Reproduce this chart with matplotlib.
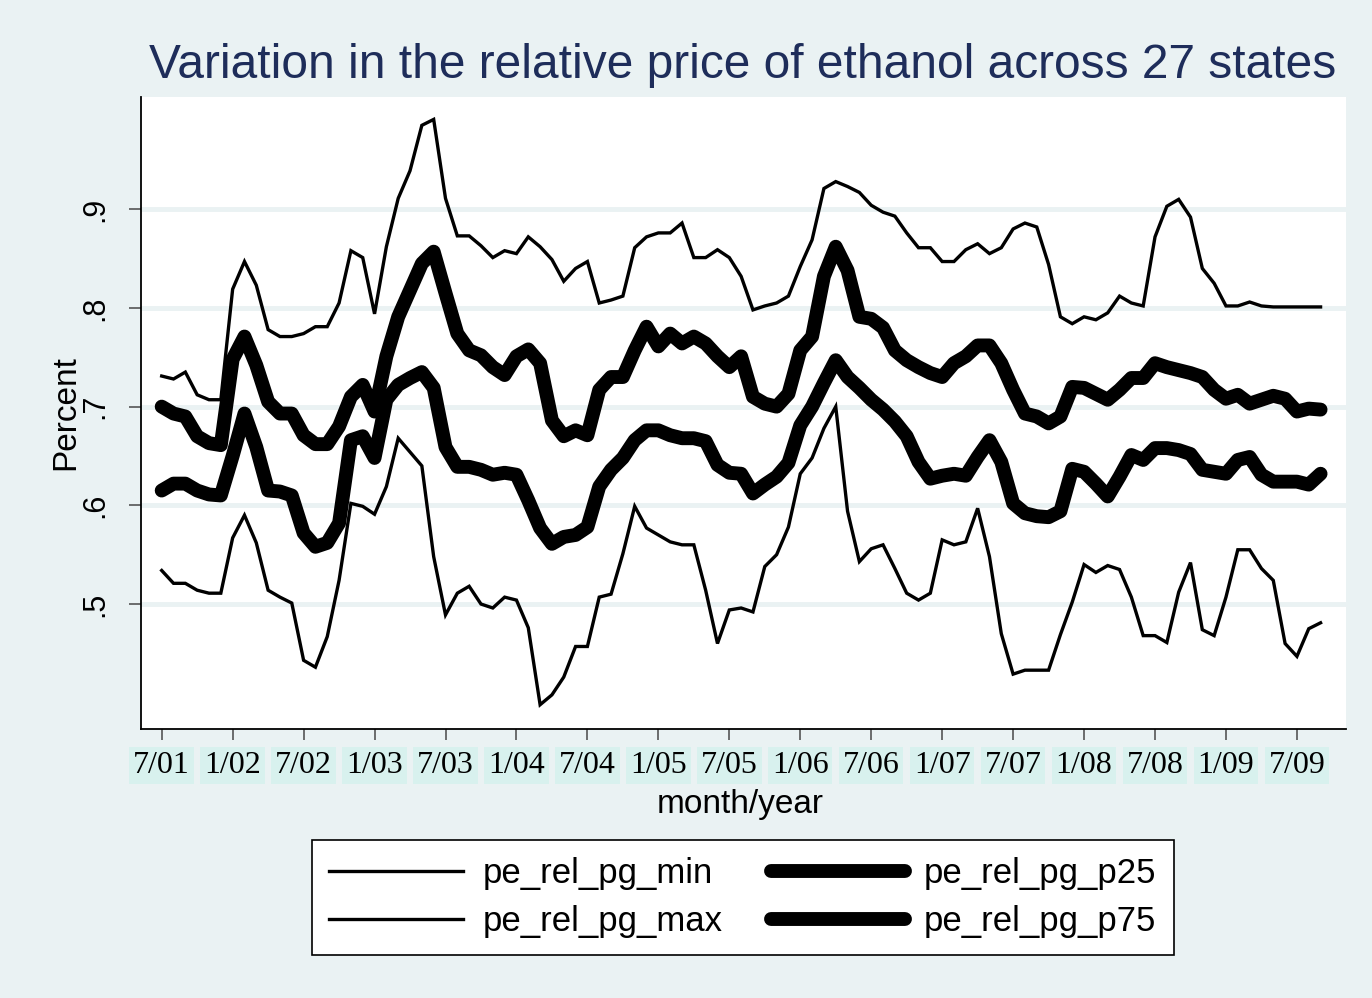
"""
Relative price of ethanol across 27 states: min / p25 / p75 / max by month.
"""
import numpy as np
import pandas as pd
import matplotlib
matplotlib.use('Agg')  # no display
import matplotlib.pyplot as plt

# monthly observations, 2001m7 - 2009m9
months = pd.period_range("2001-07", "2009-09", freq="M")

pe_rel_pg_min = [
    0.534, 0.521, 0.521, 0.514, 0.511, 0.511, 0.567, 0.590, 0.562, 0.514,
    0.507, 0.501, 0.443, 0.436, 0.467, 0.524, 0.602, 0.599, 0.591, 0.619,
    0.668, 0.654, 0.640, 0.548, 0.489, 0.511, 0.518, 0.500, 0.496, 0.507,
    0.504, 0.476, 0.398, 0.408, 0.426, 0.457, 0.457, 0.507, 0.510, 0.551,
    0.599, 0.577, 0.570, 0.563, 0.560, 0.560, 0.514, 0.460, 0.494, 0.496,
    0.492, 0.538, 0.550, 0.578, 0.632, 0.648, 0.678, 0.700, 0.594, 0.543,
    0.556, 0.560, 0.536, 0.511, 0.504, 0.511, 0.565, 0.560, 0.563, 0.597,
    0.548, 0.470, 0.429, 0.433, 0.433, 0.433, 0.469, 0.502, 0.540, 0.532,
    0.539, 0.535, 0.507, 0.468, 0.468, 0.461, 0.512, 0.542, 0.474, 0.468,
    0.507, 0.555, 0.555, 0.536, 0.524, 0.460, 0.447, 0.475, 0.481,
]

pe_rel_pg_max = [
    0.731, 0.728, 0.735, 0.712, 0.707, 0.707, 0.819, 0.847, 0.823, 0.778,
    0.771, 0.771, 0.774, 0.781, 0.781, 0.805, 0.858, 0.851, 0.794, 0.862,
    0.911, 0.939, 0.985, 0.991, 0.911, 0.873, 0.873, 0.863, 0.851, 0.858,
    0.855, 0.872, 0.862, 0.849, 0.827, 0.840, 0.847, 0.805, 0.808, 0.812,
    0.861, 0.872, 0.876, 0.876, 0.886, 0.851, 0.851, 0.859, 0.851, 0.832,
    0.798, 0.802, 0.805, 0.812, 0.842, 0.869, 0.921, 0.928, 0.923, 0.917,
    0.904, 0.897, 0.893, 0.876, 0.861, 0.861, 0.847, 0.847, 0.859, 0.865,
    0.855, 0.861, 0.880, 0.886, 0.882, 0.844, 0.791, 0.784, 0.791, 0.788,
    0.795, 0.812, 0.805, 0.802, 0.872, 0.903, 0.910, 0.892, 0.840, 0.825,
    0.802, 0.802, 0.806, 0.802, 0.801, 0.801, 0.801, 0.801, 0.801,
]

pe_rel_pg_p25 = [
    0.615, 0.622, 0.622, 0.615, 0.611, 0.610, 0.650, 0.693, 0.659, 0.615,
    0.614, 0.610, 0.572, 0.558, 0.562, 0.582, 0.666, 0.670, 0.648, 0.707,
    0.722, 0.729, 0.735, 0.719, 0.659, 0.639, 0.639, 0.636, 0.631, 0.633,
    0.631, 0.605, 0.577, 0.561, 0.568, 0.570, 0.578, 0.619, 0.636, 0.648,
    0.666, 0.676, 0.676, 0.671, 0.668, 0.668, 0.665, 0.641, 0.633, 0.632,
    0.612, 0.621, 0.629, 0.643, 0.681, 0.700, 0.724, 0.747, 0.730, 0.719,
    0.707, 0.697, 0.685, 0.670, 0.644, 0.627, 0.630, 0.632, 0.630, 0.649,
    0.666, 0.644, 0.602, 0.592, 0.589, 0.588, 0.594, 0.637, 0.634, 0.622,
    0.609, 0.629, 0.651, 0.646, 0.658, 0.658, 0.656, 0.652, 0.636, 0.634,
    0.632, 0.646, 0.649, 0.631, 0.624, 0.624, 0.624, 0.621, 0.632,
]

pe_rel_pg_p75 = [
    0.700, 0.693, 0.690, 0.670, 0.663, 0.661, 0.748, 0.771, 0.742, 0.705,
    0.693, 0.693, 0.671, 0.662, 0.662, 0.680, 0.710, 0.722, 0.695, 0.751,
    0.791, 0.818, 0.845, 0.857, 0.815, 0.774, 0.757, 0.752, 0.740, 0.732,
    0.751, 0.758, 0.744, 0.686, 0.670, 0.676, 0.671, 0.717, 0.730, 0.730,
    0.757, 0.781, 0.761, 0.774, 0.764, 0.771, 0.764, 0.751, 0.740, 0.751,
    0.710, 0.703, 0.700, 0.713, 0.757, 0.771, 0.832, 0.862, 0.838, 0.791,
    0.789, 0.780, 0.757, 0.747, 0.740, 0.734, 0.730, 0.744, 0.751, 0.762,
    0.762, 0.744, 0.717, 0.693, 0.690, 0.683, 0.690, 0.720, 0.719, 0.713,
    0.707, 0.717, 0.729, 0.729, 0.744, 0.740, 0.737, 0.734, 0.730, 0.717,
    0.708, 0.712, 0.703, 0.707, 0.711, 0.708, 0.695, 0.698, 0.697,
]

tick_labels = ["7/01", "1/02", "7/02", "1/03", "7/03", "1/04", "7/04", "1/05",
               "7/05", "1/06", "7/06", "1/07", "7/07", "1/08", "7/08", "1/09",
               "7/09"]
y_ticks = [0.5, 0.6, 0.7, 0.8, 0.9]
y_tick_labels = [".5", ".6", ".7", ".8", ".9"]

BG = "#EAF2F3"
W, H = 1372, 998

x = np.arange(len(months))
tick_pos = []
for lab in tick_labels:
    m, yy = lab.split("/")
    tick_pos.append(months.get_loc(pd.Period(f"20{yy}-{int(m):02d}", freq="M")))

fig = plt.figure(figsize=(W / 100, H / 100), dpi=100, facecolor=BG)
ax = fig.add_axes([141 / W, 1 - 729 / H, (1346 - 141) / W, (729 - 97) / H])
ax.set_facecolor("white")

thin = dict(color="black", lw=2.4, solid_joinstyle="miter")
thick = dict(color="black", lw=10, solid_capstyle="round", solid_joinstyle="round")
l_min, = ax.plot(x, pe_rel_pg_min, **thin)
l_max, = ax.plot(x, pe_rel_pg_max, **thin)
l_p25, = ax.plot(x, pe_rel_pg_p25, **thick)
l_p75, = ax.plot(x, pe_rel_pg_p75, **thick)

ax.set_xlim(-1.75, 100.15)
ax.set_ylim(0.3734, 1.0137)

for s in ["top", "right"]:
    ax.spines[s].set_visible(False)
for s in ["left", "bottom"]:
    ax.spines[s].set_linewidth(1.3)

ax.set_yticks(y_ticks, y_tick_labels, fontsize=22, family="Liberation Sans")
ax.tick_params(axis="y", labelrotation=90, length=9, width=1.2, color="#555555", pad=13)
for lab in ax.get_yticklabels():
    lab.set_verticalalignment("center")
ax.grid(axis="y", color=BG, lw=3.5)
ax.set_axisbelow(True)

ax.set_xticks(tick_pos, tick_labels, fontsize=23, family="Liberation Serif")
ax.tick_params(axis="x", length=8, width=1.2, color="#555555", pad=8)
for lab in ax.get_xticklabels():
    lab.set_bbox(dict(boxstyle="square,pad=0.12", fc="#D8F1EE", ec="none"))

fig.text(743 / W, 1 - 65 / H, "Variation in the relative price of ethanol across 27 states",
         ha="center", va="center", fontsize=34.5, color="#1E2D5A", family="Liberation Sans")
fig.text(66 / W, 1 - 413 / H, "Percent", rotation=90, ha="center", va="center",
         fontsize=24, family="Liberation Sans")
fig.text(740 / W, 1 - 805 / H, "month/year", ha="center", va="center",
         fontsize=24, family="Liberation Sans")

leg = fig.legend([l_min, l_max, l_p25, l_p75],
                 ["pe_rel_pg_min", "pe_rel_pg_max", "pe_rel_pg_p25", "pe_rel_pg_p75"],
                 ncol=2, loc="upper center", bbox_to_anchor=(743 / W, 1 - 840 / H),
                 borderaxespad=0,
                 prop={"family": "Liberation Sans", "size": 25},
                 frameon=True, fancybox=False, framealpha=1, facecolor="white",
                 edgecolor="black", handlelength=3.86, handletextpad=0.55,
                 columnspacing=1.4, borderpad=0.5, labelspacing=0.42)
leg.get_frame().set_linewidth(1.2)

fig.savefig("out.png", dpi=100, facecolor=BG)
